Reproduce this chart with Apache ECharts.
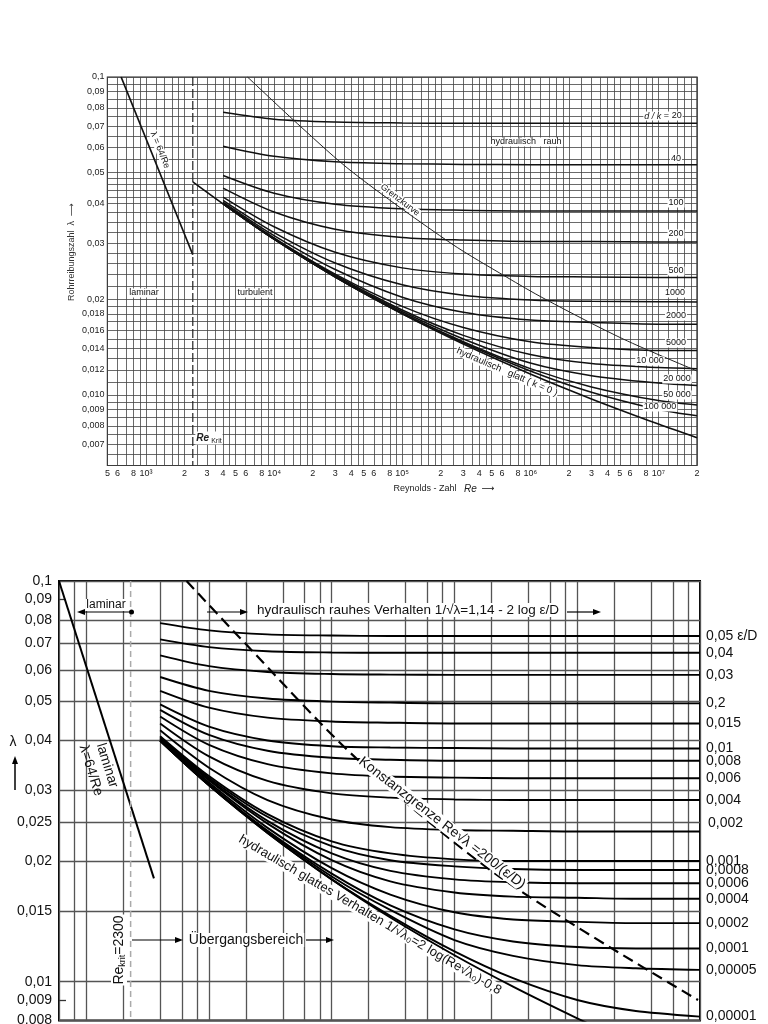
<!DOCTYPE html>
<html>
<head>
<meta charset="utf-8">
<script src="https://cdn.jsdelivr.net/npm/echarts@6.0.0/dist/echarts.min.js"></script>
<style>
html,body{margin:0;padding:0;background:#fff;}
#chart{width:768px;height:1024px;}
</style>
</head>
<body>
<div id="chart"></div>
<script>
// ================= TOP CHART (d/k) =================
const topLaminarRe = [640, 2320];
const topLaminarLambda = [0.1, 0.0276];
const topKritRe = [2320, 2320];
const topKritLambda = [0.1, 0.006];
const topSmoothRe = [2320, 4000, 10000, 30000, 100000, 300000, 1000000, 3000000, 10000000, 20000000];
const topSmoothLambda = [0.0468, 0.0399, 0.0309, 0.0235, 0.0180, 0.01446, 0.01164, 0.00972, 0.0081, 0.00734];
const topRe = [4000, 10000, 30000, 100000, 300000, 1000000, 3000000, 10000000, 20000000];
const topDk20 = [0.0775, 0.0737, 0.0722, 0.0717, 0.0715, 0.0715, 0.0715, 0.0715, 0.0715];
const topDk40 = [0.0606, 0.0563, 0.0541, 0.0534, 0.0531, 0.0530, 0.0530, 0.0530, 0.0530];
const topDk100 = [0.0490, 0.0431, 0.0398, 0.0385, 0.0381, 0.0379, 0.0379, 0.0379, 0.0379];
const topDk200 = [0.0447, 0.0376, 0.0332, 0.0313, 0.0307, 0.0304, 0.0304, 0.0303, 0.0303];
const topDk500 = [0.0419, 0.0338, 0.0281, 0.0251, 0.0240, 0.0236, 0.0235, 0.0234, 0.0234];
const topDk1000 = [0.0409, 0.0324, 0.0260, 0.0222, 0.0206, 0.0199, 0.0197, 0.01965, 0.0196];
const topDk2000 = [0.0404, 0.0317, 0.0248, 0.0203, 0.0182, 0.0172, 0.0169, 0.0167, 0.0167];
const topDk5000 = [0.0401, 0.0312, 0.0240, 0.0190, 0.0163, 0.0147, 0.0141, 0.0138, 0.0138];
const topDk10000 = [0.0400, 0.0310, 0.0238, 0.0185, 0.0154, 0.0134, 0.01255, 0.0122, 0.0121];
const topDk20000 = [0.0399, 0.0309, 0.0236, 0.0183, 0.0150, 0.0126, 0.0115, 0.0109, 0.0107];
const topDk50000 = [0.0399, 0.0309, 0.0235, 0.0181, 0.0147, 0.0121, 0.0106, 0.0096, 0.0093];
const topDk100000 = [0.0399, 0.0309, 0.0235, 0.0180, 0.0146, 0.0119, 0.0102, 0.0090, 0.0086];
const topGrenzRe = [6200, 16200, 41500, 240000, 650000, 1310000, 5300000, 20000000];
const topGrenzLambda = [0.1, 0.0697, 0.05, 0.03, 0.0235, 0.02, 0.015, 0.0119];

const topXTickValues = [500,600,800,1000,2000,3000,4000,5000,6000,8000,1e4,2e4,3e4,4e4,5e4,6e4,8e4,1e5,2e5,3e5,4e5,5e5,6e5,8e5,1e6,2e6,3e6,4e6,5e6,6e6,8e6,1e7,2e7];
const topXTickLabels = ['5','6','8','10³','2','3','4','5','6','8','10⁴','2','3','4','5','6','8','10⁵','2','3','4','5','6','8','10⁶','2','3','4','5','6','8','10⁷','2'];
const topYTickValues = [0.1,0.09,0.08,0.07,0.06,0.05,0.04,0.03,0.02,0.018,0.016,0.014,0.012,0.010,0.009,0.008,0.007];
const topYTickLabels = ['0,1','0,09','0,08','0,07','0,06','0,05','0,04','0,03','0,02','0,018','0,016','0,014','0,012','0,010','0,009','0,008','0,007'];
const topXGridSteps = [1,1.2,1.4,1.6,1.8,2,2.5,3,3.5,4,4.5,5,6,7,8,9];
const topYGridValues = [0.1,0.095,0.09,0.085,0.08,0.075,0.07,0.065,0.06,0.055,0.05,0.048,0.046,0.044,0.042,0.04,0.0375,0.035,0.0325,0.03,0.028,0.026,0.024,0.022,0.02,0.019,0.018,0.017,0.016,0.015,0.014,0.013,0.012,0.011,0.010,0.0095,0.009,0.0085,0.008,0.0075,0.007,0.0065,0.006];

// ================= BOTTOM CHART (eps/D) =================
const botLaminarRe = [600, 3560];
const botLaminarLambda = [0.1, 0.0181];
const botKritRe = [2300, 2300];
const botKritLambda = [0.1, 0.008];
const botRe = [4000, 10000, 30000, 100000, 300000, 1000000, 3000000, 10000000, 30000000, 100000000];
const botE05 = [0.0785, 0.0753, 0.0736, 0.0731, 0.0729, 0.0729, 0.0729, 0.0729, 0.0729, 0.0729];
const botE04 = [0.0715, 0.0684, 0.0668, 0.0663, 0.0662, 0.0662, 0.0662, 0.0662, 0.0662, 0.0662];
const botE03 = [0.0652, 0.0613, 0.0593, 0.0586, 0.0584, 0.0583, 0.0583, 0.0583, 0.0583, 0.0583];
const botE02 = [0.0576, 0.0532, 0.0509, 0.0500, 0.0497, 0.0495, 0.0495, 0.0495, 0.0495, 0.0495];
const botE015 = [0.0532, 0.0483, 0.0456, 0.0446, 0.0443, 0.0441, 0.0441, 0.0441, 0.0441, 0.0441];
const botE01 = [0.0492, 0.0433, 0.0400, 0.0387, 0.0384, 0.0383, 0.0382, 0.0382, 0.0382, 0.0382];
const botE008 = [0.0477, 0.0413, 0.0377, 0.0362, 0.0358, 0.0356, 0.0356, 0.0356, 0.0356, 0.0356];
const botE006 = [0.0459, 0.0390, 0.0349, 0.0331, 0.0325, 0.0323, 0.0322, 0.0322, 0.0322, 0.0322];
const botE004 = [0.0441, 0.0365, 0.0317, 0.0295, 0.0288, 0.0285, 0.0284, 0.0284, 0.0284, 0.0284];
const botE002 = [0.0424, 0.0342, 0.0284, 0.0254, 0.0243, 0.0239, 0.0238, 0.0237, 0.0237, 0.0237];
const botE001 = [0.0410, 0.0326, 0.0262, 0.0224, 0.0209, 0.0202, 0.0200, 0.0200, 0.0200, 0.0200];
const botE0008 = [0.0408, 0.0323, 0.0258, 0.0218, 0.0201, 0.0194, 0.0191, 0.0190, 0.0190, 0.0190];
const botE0006 = [0.0406, 0.0320, 0.0252, 0.0209, 0.0189, 0.0180, 0.0177, 0.0176, 0.0176, 0.0176];
const botE0004 = [0.0404, 0.0318, 0.0248, 0.0201, 0.0178, 0.0167, 0.0163, 0.0162, 0.0161, 0.0161];
const botE0002 = [0.0402, 0.0314, 0.0242, 0.0192, 0.0165, 0.0149, 0.0143, 0.0141, 0.0140, 0.0140];
const botE0001 = [0.0400, 0.0311, 0.0238, 0.0186, 0.0155, 0.0135, 0.0126, 0.0122, 0.0121, 0.0121];
const botE00005 = [0.0399, 0.0309, 0.0237, 0.0183, 0.0151, 0.0127, 0.0116, 0.0110, 0.0108, 0.0107];
const botE00001 = [0.0399, 0.0309, 0.0235, 0.0180, 0.0146, 0.0119, 0.0102, 0.0090, 0.00845, 0.00818];
const botCurveLabels = ['0,05 ε/D','0,04','0,03','0,2','0,015','0,01','0,008','0,006','0,004','0,002','0,001','0,0008','0,0006','0,0004','0,0002','0,0001','0,00005','0,00001'];
const botSmoothRe = [4000, 10000, 30000, 100000, 300000, 1000000, 3000000, 10000000, 20000000];
const botSmoothLambda = [0.0399, 0.0309, 0.0235, 0.0180, 0.01446, 0.01164, 0.00972, 0.0081, 0.00734];
const botGrenzRe = [6572, 17890, 163700, 2349000, 96400000];
const botGrenzLambda = [0.1, 0.0721, 0.03575, 0.01825, 0.0090];

const botYTickValues = [0.1,0.09,0.08,0.07,0.06,0.05,0.04,0.03,0.025,0.02,0.015,0.01,0.009,0.008];
const botYTickLabels = ['0,1','0,09','0,08','0.07','0,06','0,05','0,04','0,03','0,025','0,02','0,015','0,01','0,009','0,008'];
const botYGridValues = [0.1,0.08,0.07,0.06,0.05,0.04,0.03,0.025,0.02,0.015,0.01,0.008];
const botYShortTicks = [0.09, 0.009];
const botXGridSteps = [1,2,4,6,8];

// ================= helpers =================
const L = v => Math.log10(v);
const FONT = '"Liberation Sans", "DejaVu Sans", Arial, sans-serif';
function fmt(vals, texts) {
  return function (v) {
    for (let i = 0; i < vals.length; i++) if (Math.abs(L(vals[i]) - v) < 1e-6) return texts[i];
    return '';
  };
}
function pts(re, lam) { return re.map((r, i) => [L(r), L(lam[i])]); }
function curve(gi, re, lam, extra) {
  return Object.assign({
    type: 'line', xAxisIndex: gi, yAxisIndex: gi, data: pts(re, lam),
    symbol: 'none', showSymbol: false, smooth: 0.3, silent: true, clip: true,
    lineStyle: { color: '#111', width: 1.5 }, z: 5
  }, extra || {});
}
const topXGrid = [];
for (let e = 2; e <= 7; e++) for (const m of topXGridSteps) {
  const v = m * Math.pow(10, e);
  if (v >= 499.9 && v <= 2.0001e7) topXGrid.push(L(v));
}
const botXGrid = [];
for (let e = 2; e <= 8; e++) for (const m of botXGridSteps) {
  const v = m * Math.pow(10, e);
  if (v >= 599.9 && v <= 1.0001e8) botXGrid.push(L(v));
}

const series = [];
// top
series.push(curve(0, topLaminarRe, topLaminarLambda, { smooth: false, lineStyle: { color: '#111', width: 1.7 } }));
series.push(curve(0, topKritRe, topKritLambda, { smooth: false, lineStyle: { color: '#222', width: 1.2, type: [9, 3] } }));
series.push(curve(0, topSmoothRe, topSmoothLambda, { lineStyle: { color: '#111', width: 1.6 } }));
[topDk20, topDk40, topDk100, topDk200, topDk500, topDk1000, topDk2000, topDk5000, topDk10000, topDk20000, topDk50000, topDk100000]
  .forEach(arr => series.push(curve(0, topRe, arr)));
series.push(curve(0, topGrenzRe, topGrenzLambda, { lineStyle: { color: '#222', width: 1 } }));
// bottom
series.push(curve(1, botLaminarRe, botLaminarLambda, { smooth: false, lineStyle: { color: '#000', width: 2 } }));
series.push(curve(1, botKritRe, botKritLambda, { smooth: false, lineStyle: { color: '#aaa', width: 1.5, type: [6, 4] } }));
const botCurves = [botE05, botE04, botE03, botE02, botE015, botE01, botE008, botE006, botE004, botE002, botE001, botE0008, botE0006, botE0004, botE0002, botE0001, botE00005, botE00001];
botCurves.forEach((arr, i) => {
  series.push(curve(1, botRe, arr, {
    lineStyle: { color: '#000', width: 1.9 },
    endLabel: {
      show: true, formatter: botCurveLabels[i], distance: 6,
      offset: botCurveLabels[i] === '0,002' ? [2, -8] : [0, 0],
      color: '#111', fontSize: 14, fontFamily: FONT
    }
  }));
});
series.push(curve(1, botSmoothRe, botSmoothLambda, { lineStyle: { color: '#000', width: 1.9 } }));
series.push(curve(1, botGrenzRe, botGrenzLambda, { lineStyle: { color: '#000', width: 2.2, type: [11, 6] } }));

// ================= annotations =================
function txt(x, y, text, size, extra, styleExtra) {
  return Object.assign({
    type: 'text', x: x, y: y, z: 100,
    style: Object.assign({ text: text, fontSize: size, fontFamily: FONT, fill: '#111', align: 'center', verticalAlign: 'middle' }, styleExtra || {})
  }, extra || {});
}
function hline(x1, x2, y, w) { return { type: 'line', z: 100, shape: { x1: x1, y1: y, x2: x2, y2: y }, style: { stroke: '#000', lineWidth: w || 1.2 } }; }
function head(x, y, dir) {
  const s = 8, h = 3;
  let p;
  if (dir === 'r') p = [[x, y], [x - s, y - h], [x - s, y + h]];
  else if (dir === 'l') p = [[x, y], [x + s, y - h], [x + s, y + h]];
  else p = [[x, y], [x - h, y + s], [x + h, y + s]];
  return { type: 'polygon', z: 100, shape: { points: p }, style: { fill: '#000' } };
}
const WB = { backgroundColor: '#fff', padding: [0, 1] };
const graphics = [
  // top chart
  txt(72, 252, 'Rohrreibungszahl  λ  ⟶', 9, { rotation: Math.PI / 2 }, { fill: '#333' }),
  txt(444, 489, '{n|Reynolds - Zahl}   {i|Re}  ⟶', 9, {}, { rich: { n: { fontSize: 9, fontFamily: FONT, fill: '#222' }, i: { fontSize: 10, fontStyle: 'italic', fontFamily: FONT, fill: '#222' } } }),
  txt(144, 293, 'laminar', 9, {}, WB),
  txt(255, 293, 'turbulent', 9, {}, WB),
  txt(209, 438, '{i|Re}{s|Krit}', 9, {}, Object.assign({ rich: { i: { fontSize: 10, fontStyle: 'italic', fontWeight: 'bold', fontFamily: FONT, fill: '#222' }, s: { fontSize: 7, fontFamily: FONT, fill: '#222', padding: [6, 0, 0, 2] } } }, WB)),
  txt(160, 150, 'λ = 64/Re', 9, { rotation: -68 * Math.PI / 180 }, WB),
  txt(400, 200, 'Grenzkurve', 9, { rotation: -37.4 * Math.PI / 180 }, WB),
  txt(526, 142, 'hydraulisch   rauh', 9, {}, WB),
  txt(507, 372, 'hydraulisch   glatt ( k = 0 )', 9.5, { rotation: -23.3 * Math.PI / 180 }, WB),
  txt(663, 116, '{i|d / k} = 20', 9, {}, Object.assign({ rich: { i: { fontStyle: 'italic', fontSize: 9, fontFamily: FONT } } }, WB)),
  txt(676, 159, '40', 9, {}, WB),
  txt(676, 203, '100', 9, {}, WB),
  txt(676, 234, '200', 9, {}, WB),
  txt(676, 271, '500', 9, {}, WB),
  txt(675, 293, '1000', 9, {}, WB),
  txt(676, 316, '2000', 9, {}, WB),
  txt(676, 343, '5000', 9, {}, WB),
  txt(650, 361, '10 000', 9, {}, WB),
  txt(677, 379, '20 000', 9, {}, WB),
  txt(677, 395, '50 000', 9, {}, WB),
  txt(660, 407, '100 000', 9, {}, WB),
  // bottom chart
  txt(13, 742, 'λ', 14),
  { type: 'line', z: 100, shape: { x1: 15, y1: 790, x2: 15, y2: 763 }, style: { stroke: '#000', lineWidth: 1.5 } },
  head(15, 756, 'u'),
  hline(80, 131, 612), head(77, 612, 'l'),
  { type: 'circle', z: 100, shape: { cx: 131.5, cy: 612, r: 2.5 }, style: { fill: '#000' } },
  txt(106, 605, 'laminar', 12, {}, WB),
  hline(207, 243, 612), head(248, 612, 'r'),
  hline(567, 596, 612), head(601, 612, 'r'),
  txt(408, 610, 'hydraulisch rauhes Verhalten 1/√λ=1,14 - 2 log ε/D', 13.5, {}, WB),
  hline(132, 178, 940), head(183, 940, 'r'),
  hline(306, 329, 940), head(334, 940, 'r'),
  txt(246, 940, 'Übergangsbereich', 14, {}, WB),
  txt(119, 950, '{a|Re}{s|krit}{a|=2300}', 14, { rotation: Math.PI / 2 }, Object.assign({ rich: { a: { fontSize: 14, fontFamily: FONT, fill: '#111' }, s: { fontSize: 9, fontFamily: FONT, fill: '#111', padding: [7, 0, 0, 0] } } }, WB)),
  txt(99, 768, 'laminar\nλ=64/Re', 14, { rotation: -72.8 * Math.PI / 180 }, { lineHeight: 17 }),
  txt(370, 915, 'hydraulisch glattes Verhalten 1/√λ₀=2 log(Re√λ₀)-0,8', 13, { rotation: -30.5 * Math.PI / 180 }, WB),
  txt(442, 823, 'Konstanzgrenze Re√λ =200/(ε/D)', 14, { rotation: -37.7 * Math.PI / 180 }, WB)
];

// ================= chart =================
const chart = echarts.init(document.getElementById('chart'), null, { renderer: 'canvas' });
chart.setOption({
  animation: false,
  backgroundColor: '#fff',
  grid: [
    { left: 107.4, top: 77, width: 589.6, height: 388.5, show: true, borderColor: '#222', borderWidth: 1.2, containLabel: false, outerBoundsMode: 'none' },
    { left: 59, top: 581, width: 641, height: 439.5, show: true, borderColor: '#000', borderWidth: 2, containLabel: false, outerBoundsMode: 'none' }
  ],
  xAxis: [
    {
      gridIndex: 0, type: 'value', min: L(500), max: L(2e7),
      axisLine: { show: false },
      axisTick: { show: false, customValues: topXGrid },
      splitLine: { show: true, lineStyle: { color: '#444', width: 0.8 } },
      axisLabel: { customValues: topXTickValues.map(L), formatter: fmt(topXTickValues, topXTickLabels), fontSize: 9, color: '#222', margin: 4, fontFamily: FONT }
    },
    {
      gridIndex: 1, type: 'value', min: L(600), max: 8,
      axisLine: { show: false },
      axisTick: { show: false, customValues: botXGrid },
      splitLine: { show: true, lineStyle: { color: '#555', width: 1.3 } },
      axisLabel: { show: false }
    }
  ],
  yAxis: [
    {
      gridIndex: 0, type: 'value', min: L(0.006), max: -1,
      axisLine: { show: false },
      axisTick: { show: false, customValues: topYGridValues.map(L) },
      splitLine: { show: true, lineStyle: { color: '#444', width: 0.8 } },
      axisLabel: { customValues: topYTickValues.map(L), formatter: fmt(topYTickValues, topYTickLabels), fontSize: 9, color: '#222', margin: 3, fontFamily: FONT }
    },
    {
      gridIndex: 1, type: 'value', min: L(0.008), max: -1, position: 'left',
      axisLine: { show: false },
      axisTick: { show: false, customValues: botYGridValues.map(L) },
      splitLine: { show: true, lineStyle: { color: '#555', width: 1.3 } },
      axisLabel: { customValues: botYTickValues.map(L), formatter: fmt(botYTickValues, botYTickLabels), fontSize: 14, color: '#111', margin: 7, fontFamily: FONT }
    },
    {
      gridIndex: 1, type: 'value', min: L(0.008), max: -1, position: 'left',
      axisLine: { show: false },
      axisTick: { show: true, inside: true, length: 7, customValues: botYShortTicks.map(L), lineStyle: { color: '#333', width: 1.3 } },
      splitLine: { show: false },
      axisLabel: { show: false }
    }
  ],
  series: series,
  graphic: graphics
});
</script>
</body>
</html>
